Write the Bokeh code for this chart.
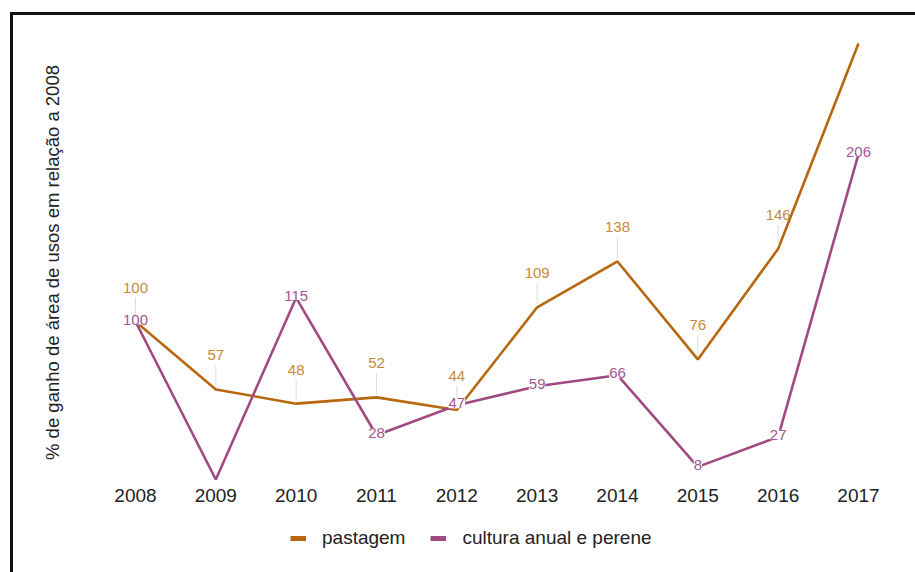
from bokeh.plotting import figure
from bokeh.layouts import column
from bokeh.models import (ColumnDataSource, LabelSet, Range1d, FixedTicker, Legend,
                          LegendItem)
from bokeh.core.properties import value
from bokeh.embed import file_html
from bokeh.resources import INLINE

# ---- data ----
years = [2008, 2009, 2010, 2011, 2012, 2013, 2014, 2015, 2016, 2017]
pastagem = [100, 57, 48, 52, 44, 109, 138, 76, 146, 276]
cultura = [100, 0, 115, 28, 47, 59, 66, 8, 27, 206]
pastagem_labels = ["100", "57", "48", "52", "44", "109", "138", "76", "146", ""]
cultura_labels = ["100", "", "115", "28", "47", "59", "66", "8", "27", "206"]
series_names = ["pastagem", "cultura anual e perene"]
y_title = "% de ganho de área de usos em relação a 2008"

# ---- style ----
C_PAST = "#b8670f"
C_CULT = "#a14a82"
C_PAST_LBL = "#c68a3c"
C_CULT_LBL = "#a5558f"
FONT = "Liberation Sans"

W, H, HL = 902, 503, 54
FL, FR, FT, FB = 97, 867, 21, 473
Y0, Y1 = -5.7, 280.4

p = figure(width=W, height=H,
           output_backend="svg", toolbar_location=None,
           x_range=Range1d(2007.689, 2017.274), y_range=Range1d(Y0, Y1),
           min_border_left=FL, min_border_right=W - FR,
           min_border_top=FT, min_border_bottom=H - FB)
p.outline_line_color = None
p.xgrid.visible = False
p.ygrid.visible = False
p.background_fill_color = "white"
p.border_fill_color = "white"

p.yaxis.ticker = FixedTicker(ticks=[])
p.yaxis.axis_line_color = None
p.yaxis.major_tick_line_color = None
p.yaxis.minor_tick_line_color = None
p.yaxis.major_tick_out = 0
p.yaxis.axis_label = y_title
p.yaxis.axis_label_standoff = 48
p.yaxis.axis_label_text_font = FONT
p.yaxis.axis_label_text_font_size = "18.5px"
p.yaxis.axis_label_text_font_style = "normal"
p.yaxis.axis_label_text_color = "#222"

p.xaxis.ticker = FixedTicker(ticks=years)
p.xaxis.axis_line_color = None
p.xaxis.major_tick_line_color = None
p.xaxis.minor_tick_line_color = None
p.xaxis.major_tick_out = 0
p.xaxis.major_label_standoff = 0
p.xaxis.major_label_text_font = FONT
p.xaxis.major_label_text_font_size = "19px"
p.xaxis.major_label_text_color = "#222"

src = ColumnDataSource(dict(x=years, past=pastagem, cult=cultura))
p.line("x", "past", source=src, line_color=C_PAST, line_width=2.6)
p.line("x", "cult", source=src, line_color=C_CULT, line_width=2.6)

# leader lines for pastagem labels
ppu = (FB - FT) / (Y1 - Y0)  # pixels per unit
lx = [x for x, t in zip(years, pastagem_labels) if t]
lv = [v for v, t in zip(pastagem, pastagem_labels) if t]
lt = [t for t in pastagem_labels if t]
lead = ColumnDataSource(dict(x=lx, y0=[v + 3 / ppu for v in lv], y1=[v + 24 / ppu for v in lv],
                             y=lv, t=lt))
p.segment("x", "y0", "x", "y1", source=lead, line_color="#dddddd", line_width=1)
p.add_layout(LabelSet(x="x", y="y", text="t", source=lead, y_offset=34,
                      text_align="center", text_baseline="middle",
                      text_font=value(FONT), text_font_size=value("15px"),
                      text_color=C_PAST_LBL))

cx = [x for x, t in zip(years, cultura_labels) if t]
cv = [v for v, t in zip(cultura, cultura_labels) if t]
ct = [t for t in cultura_labels if t]
csrc = ColumnDataSource(dict(x=cx, y=cv, t=ct))
p.add_layout(LabelSet(x="x", y="y", text="t", source=csrc, y_offset=2,
                      text_align="center", text_baseline="middle",
                      background_fill_color="white",
                      text_font=value(FONT), text_font_size=value("15px"),
                      text_color=C_CULT_LBL))

# legend strip (separate small figure under the chart; its series lie outside its view)
pl = figure(width=W, height=HL, output_backend="svg", toolbar_location=None,
            x_range=Range1d(0, 1), y_range=Range1d(0, 1), min_border=0)
pl.axis.visible = False
pl.grid.visible = False
pl.outline_line_color = None
pl.background_fill_color = "white"
pl.border_fill_color = "white"
r1 = pl.line("x", "past", source=src, line_color=C_PAST, line_width=5)
r2 = pl.line("x", "cult", source=src, line_color=C_CULT, line_width=5)
legend = Legend(items=[LegendItem(label=series_names[0], renderers=[r1]),
                       LegendItem(label=series_names[1], renderers=[r2])],
                orientation="horizontal", location=(180, 23),
                glyph_width=16, glyph_height=18, label_standoff=16, spacing=25,
                label_text_font=FONT, label_text_font_size="19px", label_text_color="#222",
                border_line_color=None, background_fill_alpha=0, margin=0, padding=10)
pl.add_layout(legend)

layout = column(p, pl, spacing=0)
layout.styles = {"border-left": "3px solid #111", "border-top": "3px solid #111",
                 "margin-left": "10px", "margin-top": "12px"}

open("out.html", "w").write(file_html(layout, INLINE))
